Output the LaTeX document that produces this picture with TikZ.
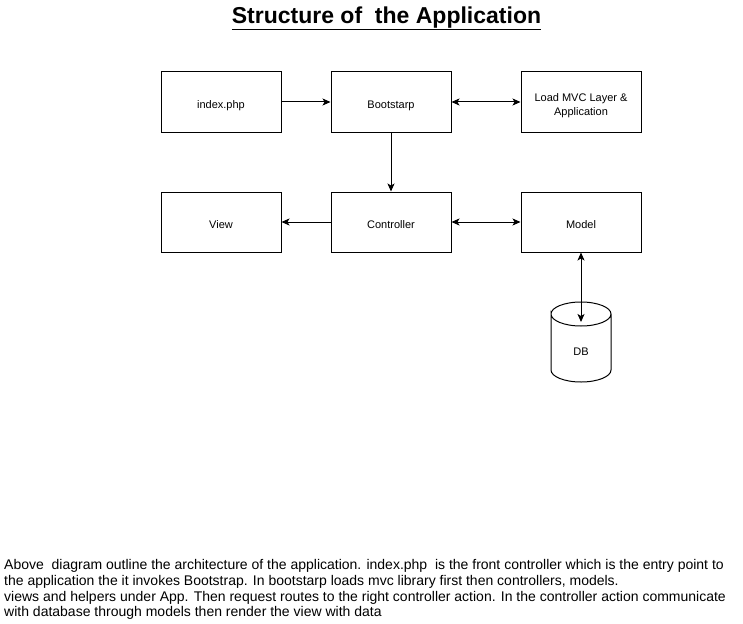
\documentclass[tikz,border=0pt]{standalone}
\usepackage{fontspec}
\setmainfont{Liberation Sans}
\usetikzlibrary{arrows.meta}
\begin{document}
\begin{tikzpicture}[x=1pt,y=-1pt,
  box/.style={draw,line width=1pt,minimum width=120pt,minimum height=60pt,inner sep=0pt,
    font=\fontsize{11}{13}\selectfont,align=center,text height=13pt,text depth=0pt},
  lbl/.style={font=\fontsize{11}{13.5}\selectfont,align=center,inner sep=0pt,anchor=base},
  conn/.style={line width=1pt,-{Stealth[length=8pt,width=7pt,inset=2pt]}},
  biconn/.style={line width=1pt,{Stealth[length=8pt,width=7pt,inset=2pt]}-{Stealth[length=8pt,width=7pt,inset=2pt]}}]
\useasboundingbox (0,0) rectangle (743,623);
\node[font=\fontsize{23}{26}\selectfont\bfseries,anchor=base,inner sep=0pt] (title) at (386.5,23.5) {\underline{Structure of \ the Application}};
\node[box] (index) at (221,102) {index.php};
\node[box] (boot) at (391,102) {Bootstarp};
\node[box] (load) at (581,102) {};
\node[lbl] (loadtxt) at (581,115) {Load MVC Layer \&\\Application};
\node[box] (view) at (221,222) {View};
\node[box] (ctrl) at (391,222) {Controller};
\node[box] (model) at (581,222) {Model};
% cylinder
\draw[line width=1pt] (551,314) arc[start angle=180,end angle=360,x radius=30,y radius=12]
  arc[start angle=0,end angle=180,x radius=30,y radius=12] -- (551,370)
  arc[start angle=180,end angle=0,x radius=30,y radius=12] -- (611,314);
\node[lbl] (db) at (581,355) {DB};
\coordinate (dbtop) at (581,322);
\draw[conn] (index) -- (boot);
\draw[biconn] (boot) -- (load);
\draw[conn] (boot) -- (ctrl);
\draw[conn] (ctrl) -- (view);
\draw[biconn] (ctrl) -- (model);
\draw[biconn] (model) -- (dbtop);
\node[anchor=north west,align=left,inner sep=0pt,font=\fontsize{14}{15.7}\selectfont] (desc) at (4,559.5)
{Above \ diagram outline the architecture of the application. index.php \ is the front controller which is the entry point to\\
the application the it invokes Bootstrap. In bootstarp loads mvc library first then controllers, models.\\
views and helpers under App. Then request routes to the right controller action. In the controller action communicate\\
with database through models then render the view with data};
\end{tikzpicture}
\end{document}
